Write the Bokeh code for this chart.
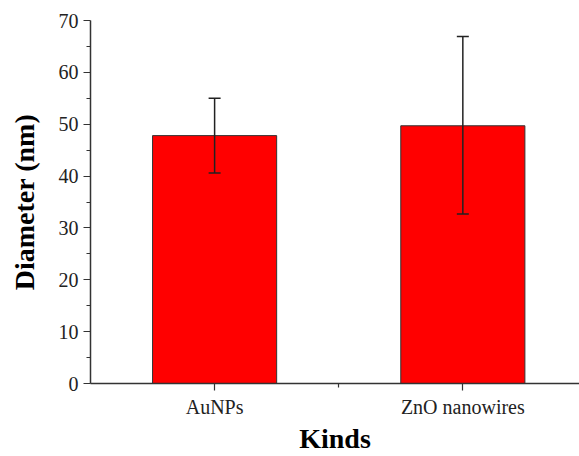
from bokeh.plotting import figure
from bokeh.models import Range1d, FixedTicker, ColumnDataSource, Whisker, TeeHead
from bokeh.embed import file_html
from bokeh.resources import INLINE

categories = ["AuNPs", "ZnO nanowires"]
positions = [1, 2]
means = [47.8, 49.7]
lower = [40.6, 32.7]
upper = [55.0, 66.9]
y_ticks = [0, 10, 20, 30, 40, 50, 60, 70]
y_minor = [5, 15, 25, 35, 45, 55, 65]

p = figure(width=579, height=456, output_backend="svg", toolbar_location=None,
           x_range=Range1d(0.5, 2.47), y_range=Range1d(0, 70),
           min_border_left=90, min_border_right=0, min_border_top=20, min_border_bottom=73)
p.outline_line_color = None
p.xgrid.visible = False
p.ygrid.visible = False
p.background_fill_color = "white"

src = ColumnDataSource(dict(x=positions, top=means, lower=lower, upper=upper))
p.vbar(x="x", top="top", width=0.5, bottom=0, source=src,
       fill_color="#ff0000", line_color="#333333", line_width=1)

w = Whisker(base="x", lower="lower", upper="upper", source=src, level="overlay",
            line_color="#222222", line_width=1.5,
            upper_head=TeeHead(size=12, line_color="#222222", line_width=1.5),
            lower_head=TeeHead(size=12, line_color="#222222", line_width=1.5))
p.add_layout(w)

font = "Liberation Serif"
for ax in (p.xaxis[0], p.yaxis[0]):
    ax.axis_line_color = "#333333"
    ax.axis_line_width = 1.5
    ax.major_tick_line_color = "#333333"
    ax.minor_tick_line_color = "#333333"
    ax.major_tick_line_width = 1.2
    ax.minor_tick_line_width = 1.2
    ax.major_tick_out = 7
    ax.major_tick_in = 0
    ax.minor_tick_out = 4
    ax.minor_tick_in = 0
    ax.major_label_text_font = font
    ax.major_label_text_font_size = "20px"
    ax.major_label_text_color = "#222222"
    ax.axis_label_text_font = font
    ax.axis_label_text_font_size = "28px"
    ax.axis_label_text_font_style = "bold"
    ax.axis_label_text_color = "#000000"

p.xaxis.ticker = FixedTicker(ticks=positions, minor_ticks=[1.5])
p.xaxis.major_label_overrides = {pos: c for pos, c in zip(positions, categories)}
p.xaxis.axis_label = "Kinds"
p.xaxis.major_label_standoff = 5
p.xaxis.axis_label_standoff = 2

p.yaxis.ticker = FixedTicker(ticks=y_ticks, minor_ticks=y_minor)
p.yaxis.axis_label = "Diameter (nm)"
p.yaxis.major_label_standoff = 5
p.yaxis.axis_label_standoff = 16

open("out.html", "w").write(file_html(p, INLINE))
